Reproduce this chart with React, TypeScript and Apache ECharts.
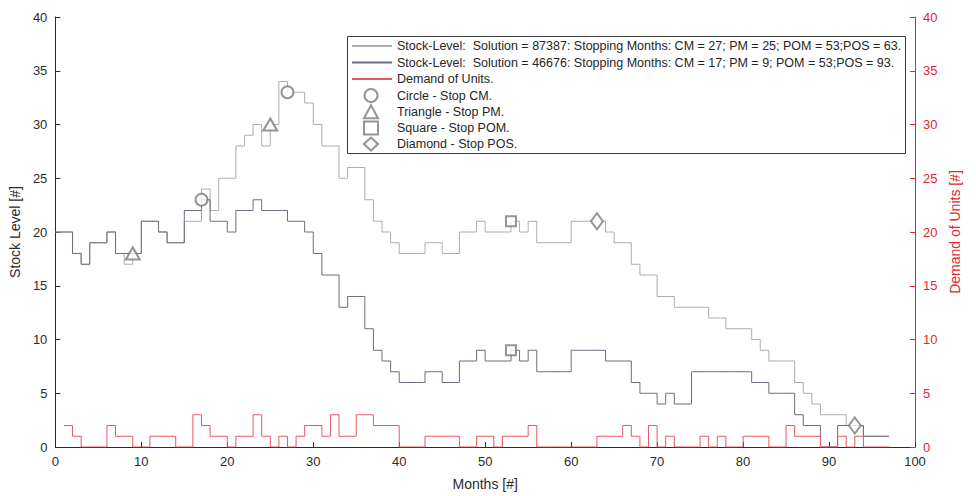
import React, { useEffect, useRef } from "react";
import * as echarts from "echarts";

// Stock level per month (months 0..97), solution 87387
const stockSol87387 = [
  20, 20, 18, 17, 19, 19, 20, 18, 17, 18,
  21, 21, 20, 19, 19, 21, 21, 24, 22, 25,
  25, 28, 29, 30, 28, 30, 34, 33, 33, 32,
  30, 28, 28, 25, 26, 26, 23, 21, 20, 19,
  18, 18, 18, 19, 19, 18, 18, 20, 20, 21,
  20, 20, 20, 21, 20, 21, 19, 19, 19, 19,
  21, 21, 21, 21, 20, 19, 19, 17, 16, 16,
  14, 14, 13, 13, 13, 13, 12, 12, 11, 11,
  11, 10, 9, 8, 8, 8, 6, 5, 4, 3,
  3, 3, 2, 2, 1, 1, 1, 1,
];

// Stock level per month (months 0..97), solution 46676
const stockSol46676 = [
  20, 20, 18, 17, 19, 19, 20, 18, 18, 18,
  21, 21, 20, 19, 19, 22, 22, 23, 21, 21,
  20, 22, 22, 23, 22, 22, 22, 21, 21, 20,
  18, 16, 16, 13, 14, 14, 11, 9, 8, 7,
  6, 6, 6, 7, 7, 6, 6, 8, 8, 9,
  8, 8, 8, 9, 8, 9, 7, 7, 7, 7,
  9, 9, 9, 9, 8, 8, 8, 6, 5, 5,
  4, 5, 4, 4, 7, 7, 7, 7, 7, 7,
  7, 6, 6, 5, 5, 5, 3, 2, 2, 0,
  0, 2, 2, 2, 1, 1, 1, 1,
];

// Demand of units per month (months 1..97)
const demandStartMonth = 1;
const demandUnits = [
  2, 1, 0, 0, 0, 2, 1, 1, 0, 0,
  1, 1, 1, 0, 0, 3, 2, 1, 1, 0,
  1, 1, 3, 1, 0, 1, 0, 1, 2, 2,
  1, 3, 1, 1, 3, 3, 2, 2, 2, 0,
  0, 0, 1, 1, 1, 1, 0, 0, 1, 1,
  0, 1, 1, 1, 2, 0, 0, 0, 0, 0,
  0, 0, 1, 1, 1, 2, 1, 0, 2, 0,
  1, 0, 0, 0, 1, 0, 1, 0, 0, 1,
  1, 1, 0, 0, 2, 1, 1, 1, 0, 0,
  1, 0, 1, 0, 0, 0, 0,
];

// Stopping months [CM, PM, POM, POS]
const stopsSol87387 = [27, 25, 53, 63];
const stopsSol46676 = [17, 9, 53, 93];

const seriesNames = [
  "Stock-Level:  Solution = 87387: Stopping Months: CM = 27; PM = 25; POM = 53;POS = 63.",
  "Stock-Level:  Solution = 46676: Stopping Months: CM = 17; PM = 9; POM = 53;POS = 93.",
  "Demand of Units.",
];
const markerNames = [
  "Circle - Stop CM.",
  "Triangle - Stop PM.",
  "Square - Stop POM.",
  "Diamond - Stop POS.",
];
const markerSymbols = ["emptyCircle", "emptyTriangle", "emptyRect", "emptyDiamond"];
const markerSizes: (number | number[])[] = [12, [14, 12], 10, [12, 16]];

const xTicks = { min: 0, max: 100, interval: 10 };
const yTicks = { min: 0, max: 40, interval: 5 };

const FONT = "'Liberation Sans', Arial, Helvetica, sans-serif";
const AXIS_COLOR = "#2b2b2b";
const RED_AXIS = "#e3262e";
const COLOR_87387 = "#adadad";
const COLOR_46676 = "#6d6d80";
const COLOR_DEMAND = "#e8585f";
const MARKER_COLOR = "#7a7a7a";

function toPairs(values: number[], start: number) {
  return values.map((v, i) => [start + i, v]);
}

export default function App() {
  const ref = useRef<HTMLDivElement>(null);

  useEffect(() => {
    if (!ref.current) return;
    const chart = echarts.init(ref.current, undefined, { renderer: "svg" });

    const markerSeries = markerNames.map((name, k) => ({
      name,
      type: "scatter",
      yAxisIndex: 0,
      symbol: markerSymbols[k],
      symbolSize: markerSizes[k],
      itemStyle: { color: MARKER_COLOR, borderColor: MARKER_COLOR, borderWidth: 1 },
      z: 5,
      data: [
        [stopsSol87387[k], stockSol87387[stopsSol87387[k]]],
        [stopsSol46676[k], stockSol46676[stopsSol46676[k]]],
      ],
    }));

    const axisCommon = {
      axisLine: { show: true, lineStyle: { color: AXIS_COLOR, width: 1 } },
      axisTick: { show: true, inside: true, length: 5, lineStyle: { color: AXIS_COLOR } },
      axisLabel: { fontSize: 13, color: AXIS_COLOR, fontFamily: FONT },
      splitLine: { show: false },
      nameTextStyle: { fontSize: 14, color: AXIS_COLOR, fontFamily: FONT },
    };

    const legendText = { fontFamily: FONT, fontSize: 12.5, color: "#262626", lineHeight: 14 };

    chart.setOption({
      animation: false,
      backgroundColor: "#ffffff",
      grid: { left: 53, right: 61, top: 17, bottom: 48, containLabel: false },
      // frame shared by the two legend blocks
      graphic: [
        {
          type: "rect",
          left: 347,
          top: 36,
          z: 20,
          shape: { width: 558, height: 117 },
          style: { fill: "#ffffff", stroke: "#3a3a3a", lineWidth: 1 },
        },
      ],
      legend: [
        {
          orient: "vertical",
          left: 347,
          top: 36,
          z: 30,
          padding: [3, 3, 0, 4],
          itemWidth: 40,
          itemHeight: 13,
          itemGap: 2.5,
          textStyle: legendText,
          data: seriesNames.map((name) => ({ name, itemStyle: { opacity: 0 } })),
        },
        {
          orient: "vertical",
          left: 363,
          top: 88,
          z: 30,
          padding: 0,
          itemWidth: 14,
          itemHeight: 13,
          itemGap: 1.2,
          textStyle: { ...legendText, padding: [0, 0, 0, 14] },
          data: markerNames.map((name, k) => ({ name, icon: markerSymbols[k] })),
        },
      ],
      xAxis: {
        type: "value",
        ...xTicks,
        name: "Months [#]",
        nameLocation: "middle",
        nameGap: 30,
        ...axisCommon,
        axisLabel: { ...axisCommon.axisLabel, margin: 8 },
      },
      yAxis: [
        {
          type: "value",
          position: "left",
          ...yTicks,
          name: "Stock Level [#]",
          nameLocation: "middle",
          nameGap: 24,
          nameRotate: 90,
          ...axisCommon,
          axisLabel: { ...axisCommon.axisLabel, margin: 8 },
        },
        {
          type: "value",
          position: "right",
          ...yTicks,
          name: "Demand of Units [#]",
          nameLocation: "middle",
          nameGap: 32,
          nameRotate: 90,
          ...axisCommon,
          axisLine: { show: true, lineStyle: { color: RED_AXIS, width: 1 } },
          axisTick: { show: true, inside: true, length: 5, lineStyle: { color: RED_AXIS } },
          axisLabel: { fontSize: 13, color: RED_AXIS, fontFamily: FONT, margin: 8 },
          nameTextStyle: { fontSize: 14, color: RED_AXIS, fontFamily: FONT },
        },
      ],
      series: [
        {
          name: seriesNames[0],
          type: "line",
          step: "end",
          yAxisIndex: 0,
          symbol: "none",
          lineStyle: { color: COLOR_87387, width: 1 },
          itemStyle: { color: COLOR_87387 },
          z: 2,
          data: toPairs(stockSol87387, 0),
        },
        {
          name: seriesNames[1],
          type: "line",
          step: "end",
          yAxisIndex: 0,
          symbol: "none",
          lineStyle: { color: COLOR_46676, width: 1 },
          itemStyle: { color: COLOR_46676 },
          z: 3,
          data: toPairs(stockSol46676, 0),
        },
        {
          name: seriesNames[2],
          type: "line",
          step: "end",
          yAxisIndex: 1,
          symbol: "none",
          lineStyle: { color: COLOR_DEMAND, width: 1 },
          itemStyle: { color: COLOR_DEMAND },
          z: 4,
          data: toPairs(demandUnits, demandStartMonth),
        },
        ...markerSeries,
      ],
    });

    return () => chart.dispose();
  }, []);

  return (
    <div
      ref={ref}
      style={{ position: "fixed", left: 0, top: 0, width: 976, height: 496, background: "#fff" }}
    />
  );
}
